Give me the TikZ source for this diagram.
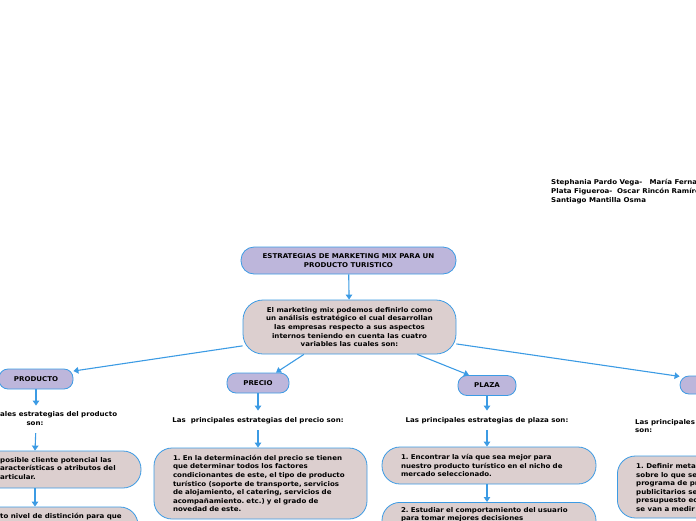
\documentclass[tikz,border=0pt]{standalone}
\usepackage{fontspec}
\setmainfont{DejaVu Sans}[FakeStretch=1.07]
\usetikzlibrary{arrows.meta}
\definecolor{bl}{HTML}{3C9BE4}
\definecolor{lav}{HTML}{BDB6DB}
\definecolor{pk}{HTML}{DCCFCF}
\frenchspacing
\begin{document}
\begin{tikzpicture}[x=1pt,y=-1pt,
  font=\fontsize{6.6}{8.6}\selectfont\bfseries,
  cat/.style={draw=bl, fill=lav, rounded corners=9pt, minimum height=19pt, inner sep=0pt, line width=0.8pt},
  card/.style={draw=bl, fill=pk, rounded corners=18pt, line width=0.8pt, inner sep=0pt, align=left},
  arr/.style={draw=bl, line width=1.1pt, -{Triangle[length=5pt,width=6.5pt]}},
  txt/.style={inner sep=0pt, align=center},
  frag/.style={inner sep=0pt, align=left, anchor=west}]
\useasboundingbox (0,0) rectangle (696,520);
\clip (0,0) rectangle (696,520);

% authors
\node[frag] (authors) at (551,191.5) {Stephania Pardo Vega-\ \ \ María Fernan\\Plata Figueroa-\ \ Oscar Rincón Ramíre\\Santiago Mantilla Osma};

% title and intro
\node[cat, minimum width=215pt, minimum height=27pt, rounded corners=13pt, align=center] (title) at (348.5,260.5) {ESTRATEGIAS DE MARKETING MIX PARA UN\\PRODUCTO TURISTICO};
\node[card, minimum width=213pt, minimum height=54pt, rounded corners=20pt, align=center] (intro) at (349.5,327) {El marketing mix podemos definirlo como\\un análisis estratégico el cual desarrollan\\las empresas respecto a sus aspectos\\internos teniendo en cuenta las cuatro\\variables las cuales son:};
\draw[arr] (title) -- (intro);

% category nodes
\node[cat, minimum width=74pt, minimum height=20pt] (producto) at (36,379) {PRODUCTO};
\node[cat, minimum width=62pt, minimum height=20pt] (precio) at (258,383) {PRECIO};
\node[cat, minimum width=58pt, minimum height=20pt] (plaza) at (487,385.5) {PLAZA};
\node[cat, minimum width=80pt, minimum height=18pt] (promo) at (720,385) {};

\draw[arr] (intro.190) -- (producto.12);
\draw[arr] (intro.-149) -- (precio.30);
\draw[arr] (intro.-22) -- (plaza.150);
\draw[arr] (intro.-9) -- (promo.168);

% PRODUCTO column
\node[frag] (prodtxt) at (0,415) {ales estrategias del producto};
\node[txt] (prodson) at (35,424) {son:};
\node[card, minimum width=212pt, minimum height=37pt] (prodbox1) at (35,469.5) {};
\node[frag] (prodbox1txt) at (0,468.5) {posible cliente potencial las\\aracterísticas o atributos del\\articular.};
\node[card, minimum width=206pt, minimum height=40pt] (prodbox2) at (35,527) {};
\node[frag] (prodbox2txt) at (0,517) {to nivel de distinción para que};
\draw[arr, shorten >=6pt] (producto.south) -- (producto.south |- prodtxt.north);
\draw[arr, shorten <=7pt] (producto.south |- prodson.south) -- (prodbox1.north);
\draw[arr] (prodbox1.south) -- (prodbox2.north);

% PRECIO column
\node[txt] (pretxt) at (258,421) {Las\ \ principales estrategias del precio son:};
\node[card, minimum width=213pt, minimum height=71pt, inner xsep=19pt, text width=175pt] (prebox) at (260.5,483.5) {1. En la determinación del precio se tienen\\que determinar todos los factores\\condicionantes de este, el tipo de producto\\turístico (soporte de transporte, servicios\\de alojamiento, el catering, servicios de\\acompañamiento. etc.) y el grado de\\novedad de este.};
\draw[arr, shorten >=7pt] (precio) -- (pretxt);
\draw[arr, shorten <=6pt] (pretxt.south -| precio.south) -- (precio.south |- prebox.north);

% PLAZA column
\node[txt] (platxt) at (487,421) {Las principales estrategias de plaza son:};
\node[card, minimum width=214pt, minimum height=37pt, inner xsep=19pt, text width=176pt] (plabox1) at (489,465.5) {1. Encontrar la vía que sea mejor para\\nuestro producto turístico en el nicho de\\mercado seleccionado.};
\node[card, minimum width=214pt, minimum height=40pt, inner xsep=19pt, text width=176pt, anchor=north] (plabox2) at (489,502) {2. Estudiar el comportamiento del usuario\\para tomar mejores decisiones\\~\\~};
\draw[arr, shorten >=7pt] (plaza) -- (platxt);
\draw[arr, shorten <=6pt] (platxt.south) -- (platxt.south |- plabox1.north);
\draw[arr] (plabox1.south -| platxt.south) -- (platxt.south |- plabox2.north);

% right column
\node[frag] (promtxt) at (635,426) {Las principales\\son:};
\node[card, minimum width=160pt, minimum height=62pt, anchor=west] (prombox) at (617,487) {};
\node[frag] (promboxtxt) at (636,487.5) {1. Definir metas\\sobre lo que se\\programa de pr\\publicitarios se\\presupuesto ec\\se van a medir};
\end{tikzpicture}
\end{document}
